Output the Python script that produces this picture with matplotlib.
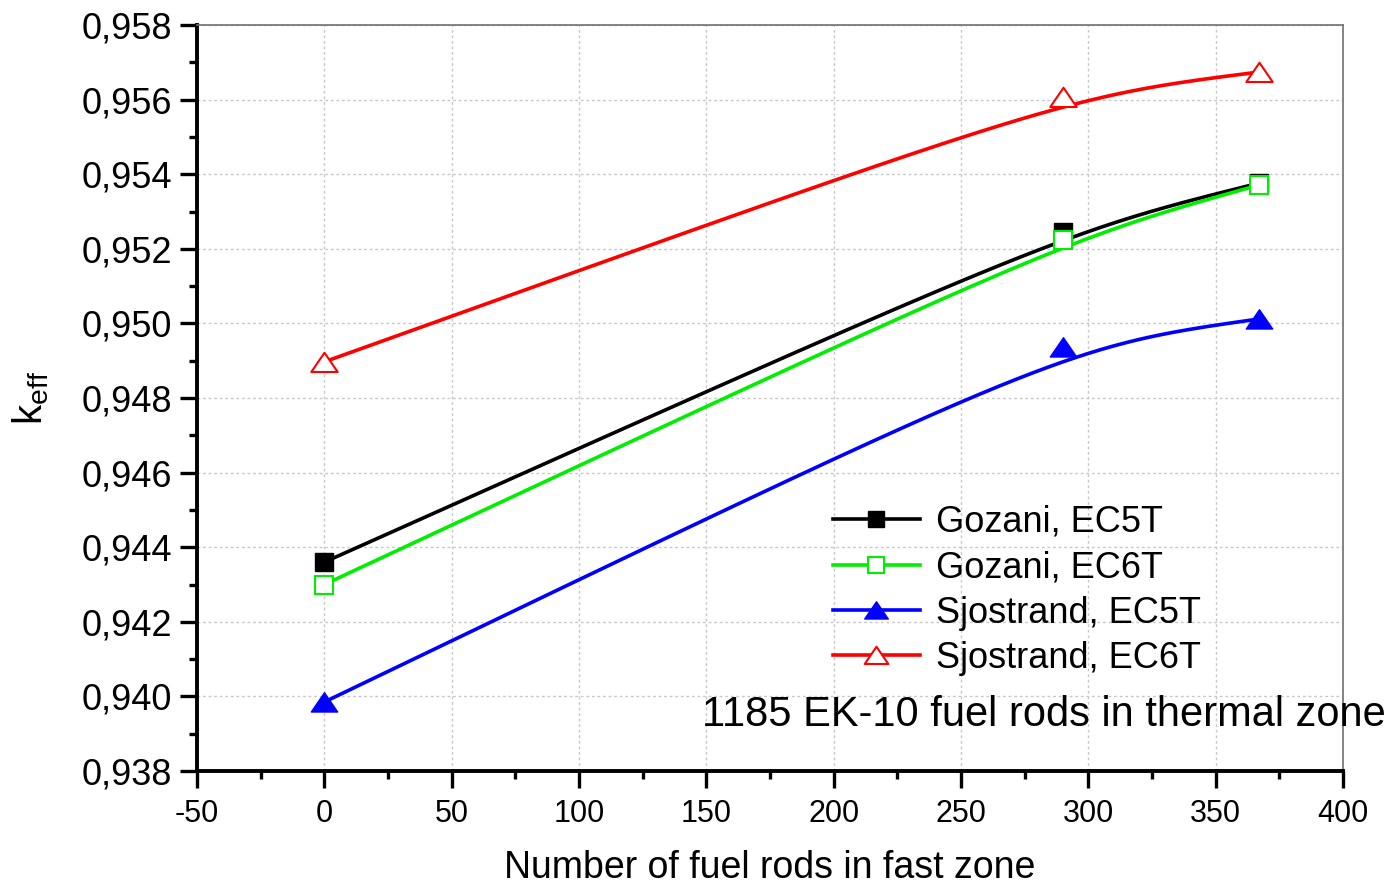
import numpy as np
import matplotlib
matplotlib.use('Agg')
import matplotlib.pyplot as plt
from matplotlib.path import Path
from matplotlib.ticker import MultipleLocator, FuncFormatter

plt.rcParams['font.family'] = ['Liberation Sans', 'DejaVu Sans']

# fuel rods in fast zone
rods = [0, 290, 367]

gozani_ec5t = [0.9436, 0.95245, 0.95376]
gozani_ec6t = [0.9430, 0.95224, 0.95371]
sjostrand_ec5t = [0.93985, 0.94937, 0.95012]
sjostrand_ec6t = [0.94897, 0.95607, 0.95674]

labels = ['Gozani, EC5T', 'Gozani, EC6T', 'Sjostrand, EC5T', 'Sjostrand, EC6T']


def bspline(xs, ys, n=200):
    # Origin-like B-spline connect: cubic bezier P0, P1, P1, P2
    t = np.linspace(0, 1, n)
    b0 = (1 - t) ** 3
    b1 = 3 * t * (1 - t)
    b2 = t ** 3
    return (b0 * xs[0] + b1 * xs[1] + b2 * xs[2],
            b0 * ys[0] + b1 * ys[1] + b2 * ys[2])


# wide triangle like Origin's
tri = Path([(-1, -0.72), (1, -0.72), (0, 0.74), (-1, -0.72)],
           [Path.MOVETO, Path.LINETO, Path.LINETO, Path.CLOSEPOLY])

fig = plt.figure(figsize=(13.95, 8.84), dpi=100)
ax = fig.add_axes([0.1412, 0.1278, 0.8215, 0.8439])

styles = [
    dict(color='black', marker='s', mfc='black', mec='black', ms=13, lms=12),
    dict(color='#00ee00', marker='s', mfc='white', mec='#00ee00', ms=13, lms=12, mew=1.5),
    dict(color='blue', marker=tri, mfc='blue', mec='blue', ms=19, lms=17),
    dict(color='red', marker=tri, mfc='white', mec='red', ms=19, lms=17, mew=1.5),
]

for ys, lab, st in zip([gozani_ec5t, gozani_ec6t, sjostrand_ec5t, sjostrand_ec6t], labels, styles):
    cx, cy = bspline(rods, ys)
    ax.plot(cx, cy, color=st['color'], lw=2.6, zorder=2)
    ax.plot(rods, ys, ls='none', marker=st['marker'], mfc=st['mfc'], mec=st['mec'],
            ms=st['ms'], mew=st.get('mew', 1), zorder=3)
    # legend proxy
    ax.plot([], [], color=st['color'], lw=2.6, marker=st['marker'], mfc=st['mfc'],
            mec=st['mec'], ms=st['lms'], mew=st.get('mew', 1), label=lab)

ax.set_xlim(-50, 400)
ax.set_ylim(0.938, 0.958)
ax.xaxis.set_major_locator(MultipleLocator(50))
ax.xaxis.set_minor_locator(MultipleLocator(25))
ax.yaxis.set_major_locator(MultipleLocator(0.002))
ax.yaxis.set_minor_locator(MultipleLocator(0.001))
ax.yaxis.set_major_formatter(FuncFormatter(lambda v, p: ('%.3f' % v).replace('.', ',')))
ax.xaxis.set_major_formatter(FuncFormatter(lambda v, p: '%d' % v))

ax.grid(True, which='major', color='#c8c8c8', ls=(0, (2, 2)), lw=1)
ax.set_axisbelow(True)

for s in ['left', 'bottom']:
    ax.spines[s].set_linewidth(2.8)
    ax.spines[s].set_color('black')
for s in ['top', 'right']:
    ax.spines[s].set_linewidth(1.2)
    ax.spines[s].set_color('#707070')

ax.tick_params(which='major', direction='out', length=12, width=2.4, pad=6)
ax.tick_params(which='minor', direction='out', length=6, width=2.4)
ax.tick_params(axis='y', which='major', labelsize=26)
ax.tick_params(axis='x', which='major', labelsize=22, pad=8)

ax.set_xlabel('Number of fuel rods in fast zone', fontsize=27, labelpad=15)
ax.set_ylabel(r'k$_{\mathregular{eff}}$', fontsize=29, labelpad=22)

leg = ax.legend(loc='upper left', bbox_to_anchor=(0.555, 0.357), frameon=False,
                fontsize=26, handlelength=2.4, handletextpad=0.45, labelspacing=0.29,
                borderaxespad=0, borderpad=0)

ax.text(0.441, 0.075, '1185 EK-10 fuel rods in thermal zone', transform=ax.transAxes,
        fontsize=30, ha='left', va='center', clip_on=False)

fig.savefig('out.png', dpi=100)
